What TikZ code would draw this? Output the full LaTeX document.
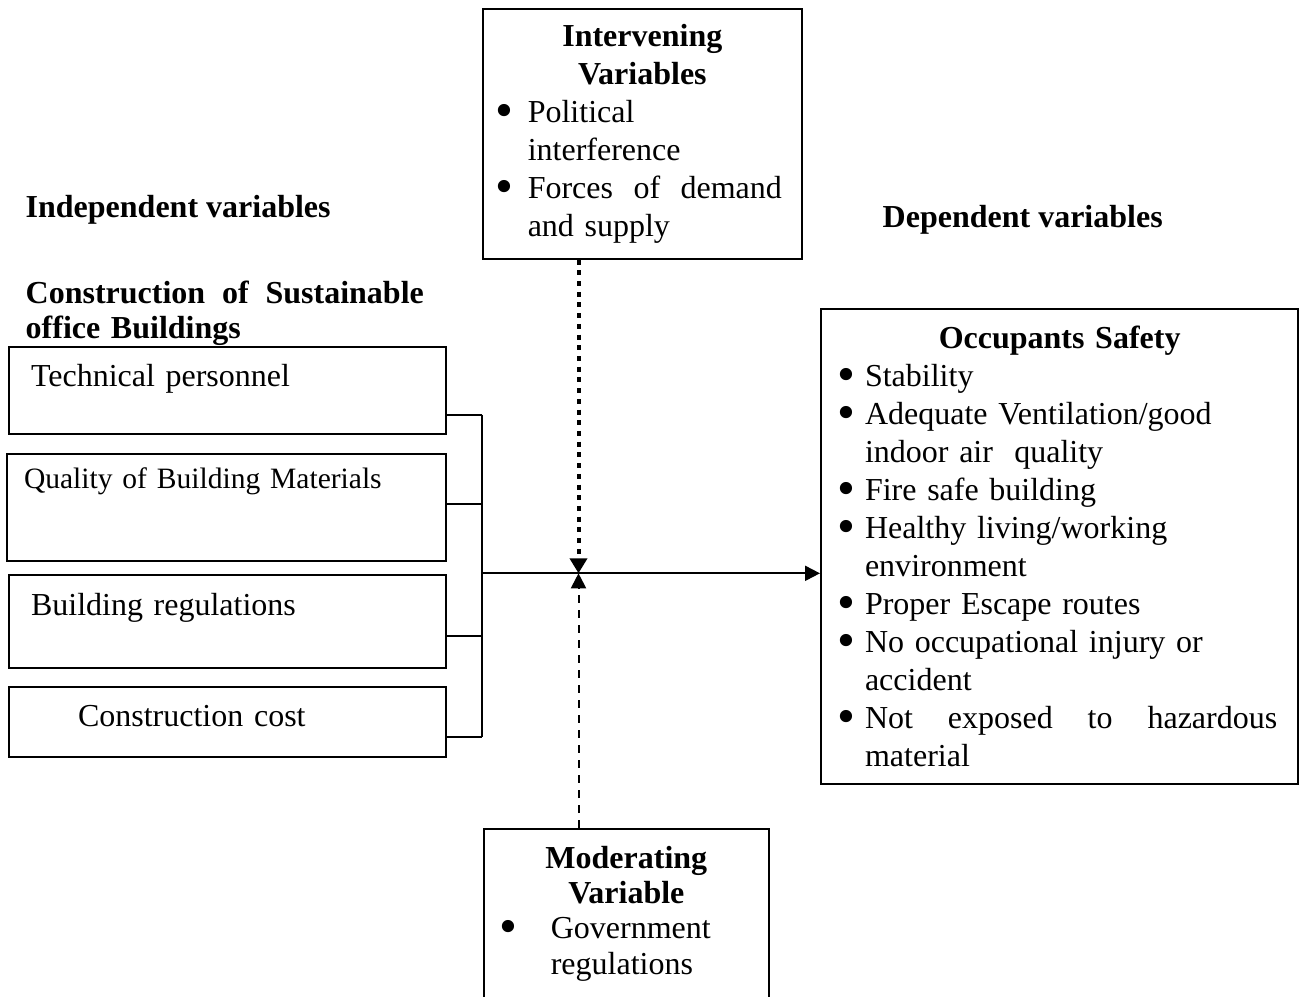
\documentclass[tikz,border=0pt]{standalone}
\usepackage{fontspec}
\setmainfont{Liberation Serif}
\usepackage{enumitem}
\usetikzlibrary{arrows.meta}
\setlength{\parindent}{0pt}
\setlist[itemize]{nosep, label=\smash{\raisebox{-0.05cm}{\scalebox{1.6}{\textbullet}}}}
\newcommand{\bodyfont}{\fontsize{9.1pt}{10.8pt}\selectfont}
\newcommand{\tightfont}{\fontsize{9.1pt}{9.96pt}\selectfont}
\tikzset{
  frame-box/.style={draw=black, line width=0.02cm, inner ysep=0pt, anchor=north west},
  factor-box/.style={frame-box, inner xsep=0.22cm, text width=3.93cm, align=left},
  var-box/.style={frame-box, line width=0.015cm, inner xsep=0.2cm, align=left},
  head-label/.style={inner sep=0pt, font=\bodyfont\bfseries},
  link/.style={line width=0.02cm},
  link-arrow/.style={link, -{Triangle[length=0.15cm,width=0.15cm]}},
  dotted-arrow/.style={line width=0.04cm, dash pattern=on 0.05cm off 0.057cm,
    -{Triangle[length=0.15cm,width=0.17cm]}},
  dashed-arrow/.style={link, dash pattern=on 0.08cm off 0.07cm,
    -{Triangle[length=0.15cm,width=0.15cm]}}
}

\begin{document}
\begin{tikzpicture}[x=0.01cm, y=-0.01cm, font=\bodyfont]
  \useasboundingbox (0,0) rectangle (1303,996);

  % --- Headings ---
  \node[head-label, anchor=base west] (indep) at (25,217) {Independent variables};
  \node[head-label, anchor=base west] (dep) at (882,227) {Dependent variables};
  \node[head-label, anchor=north west, text width=3.98cm, font=\tightfont\bfseries] (csob) at (25,280)
    {Construction\hfill of\hfill Sustainable\newline office Buildings};

  % --- Independent variables ---
  \node[factor-box, text height=0.39cm, text depth=0.48cm] (tech) at (8,346) {Technical personnel};
  \node[factor-box, inner xsep=0.17cm, text width=4.05cm, text height=0.34cm, text depth=0.73cm,
    font=\fontsize{8.4pt}{10pt}\selectfont] (qual) at (6,453) {Quality of Building Materials};
  \node[factor-box, text height=0.40cm, text depth=0.53cm] (regs) at (8,574) {Building regulations};
  \node[factor-box, text height=0.39cm, text depth=0.31cm] (cost) at (8,686) {\hspace*{0.47cm}Construction cost};

  % --- Intervening variables ---
  \node[var-box, text width=2.79cm, minimum height=2.5cm] (interv) at (482,8) {%
    {\centering\bfseries Intervening\\ Variables\par}
    \begin{itemize}[leftmargin=0.25cm, labelwidth=0.11cm, labelsep=0.14cm]
      \item Political\newline interference
      \item Forces\hfill of\hfill demand\newline and supply
    \end{itemize}};

  % --- Moderating variable ---
  \node[var-box, text width=2.45cm, minimum height=1.7cm, font=\tightfont] (moder) at (483,828) {%
    {\centering\bfseries Moderating\\ Variable\par}
    \begin{itemize}[leftmargin=0.47cm, labelwidth=0.11cm, labelsep=0.33cm]
      \item Government\newline regulations
    \end{itemize}};

  % --- Dependent variables ---
  \node[var-box, line width=0.02cm, inner xsep=0.21cm, text width=4.35cm, minimum height=4.75cm] (safety) at (820,308) {%
    {\centering\bfseries Occupants Safety\par}
    \begin{itemize}[leftmargin=0.23cm, labelwidth=0.11cm, labelsep=0.10cm]
      \item Stability
      \item Adequate Ventilation/good\newline indoor air\ \ quality
      \item Fire safe building
      \item Healthy living/working\newline environment
      \item Proper Escape routes
      \item No occupational injury or\newline accident
      \item Not\hfill exposed\hfill to\hfill hazardous\newline material
    \end{itemize}};

  % --- Connectors ---
  \coordinate (j1) at (481.7,414.7);
  \coordinate (j2) at (481.7,504);
  \coordinate (j3) at (481.7,636);
  \coordinate (j4) at (481.7,736.7);
  \coordinate (hub) at (481.7,573.3);
  \coordinate (meet) at (578.5,573.3);

  \foreach \b/\j in {tech/j1, qual/j2, regs/j3, cost/j4}
    \draw[link] (\b.east |- \j) -- (\j);
  \draw[link] (j1) -- (j4);
  \draw[link-arrow] (hub) -- (hub -| safety.west);
  \draw[dotted-arrow] (interv.south -| meet) -- (meet);
  \draw[dashed-arrow] (moder.north -| meet) -- (meet);
\end{tikzpicture}
\end{document}
